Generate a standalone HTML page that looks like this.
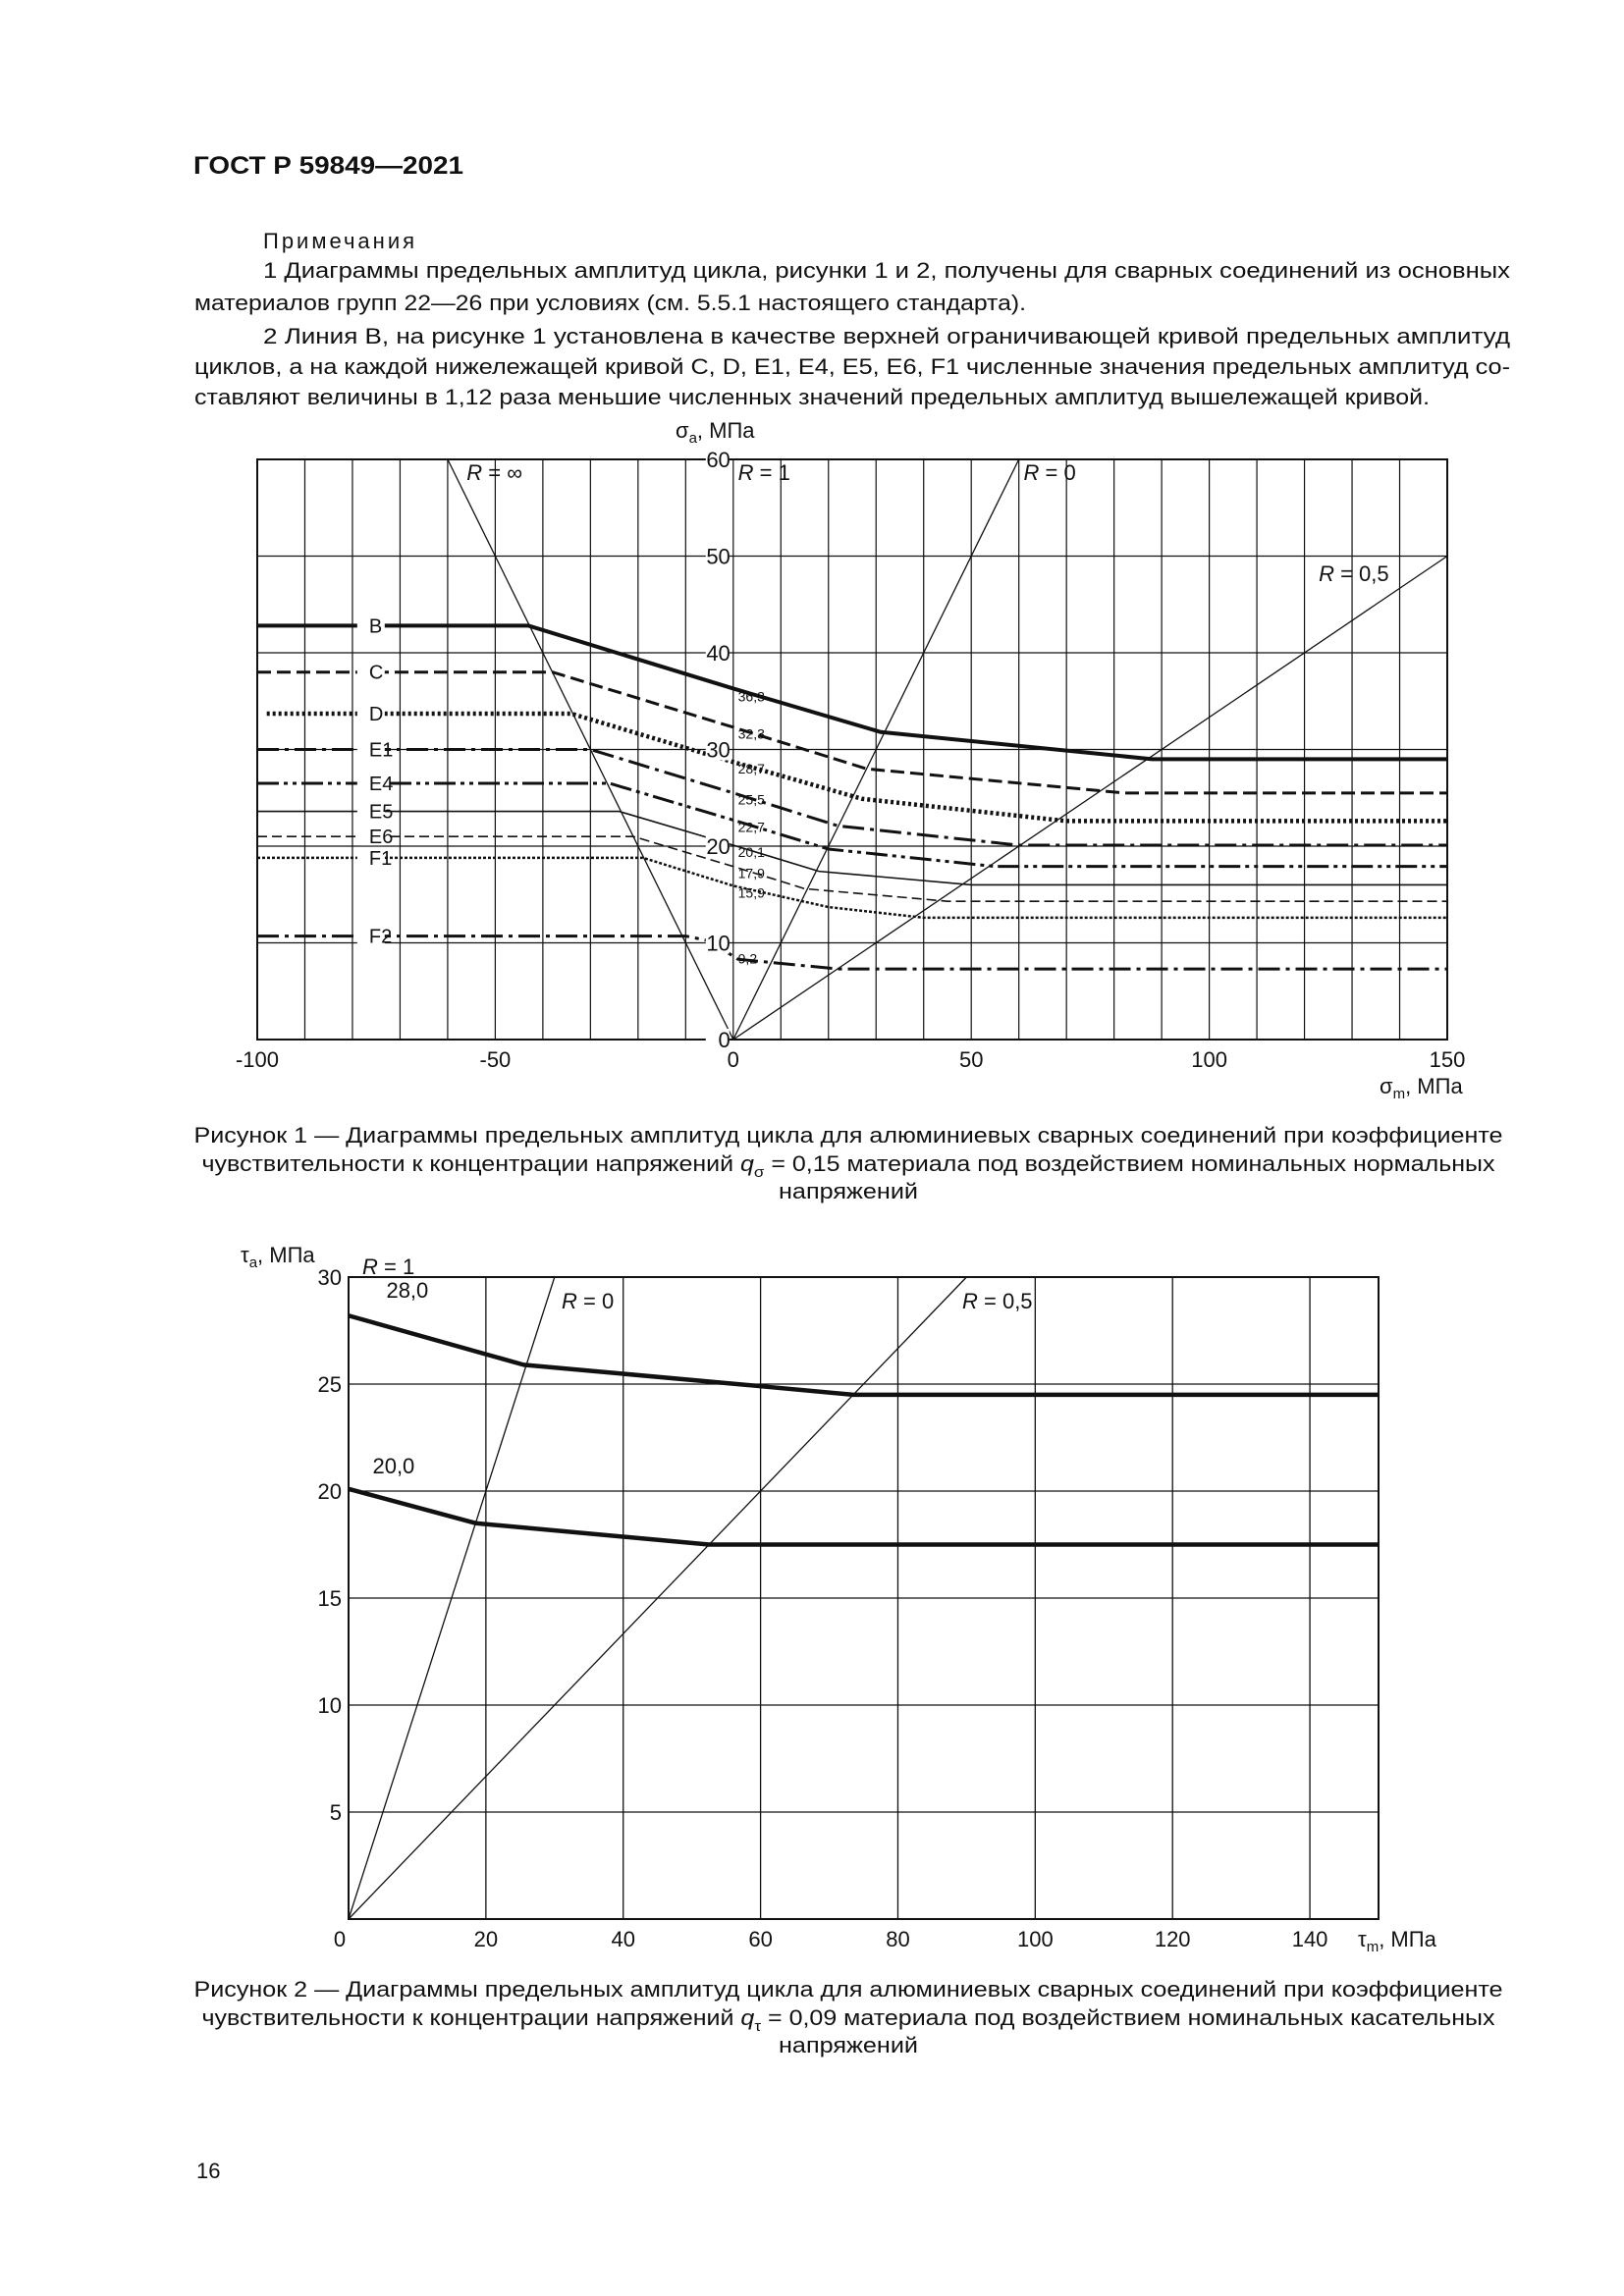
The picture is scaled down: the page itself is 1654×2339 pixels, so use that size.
<!DOCTYPE html>
<html><head><meta charset="utf-8"><style>
html,body{margin:0;padding:0;background:#fff}
svg{display:block;font-family:"Liberation Sans","Noto Sans CJK SC",sans-serif}
</style></head><body>
<svg id="page" width="1654" height="2339" viewBox="0 0 1654 2339" xmlns="http://www.w3.org/2000/svg">
<g font-size="22" fill="#111">
<text x="197" y="177" font-weight="bold" font-size="25" textLength="275" lengthAdjust="spacingAndGlyphs">ГОСТ Р 59849—2021</text>
<text x="268" y="253" letter-spacing="3">Примечания</text>
<text x="268" y="283" textLength="1270" lengthAdjust="spacingAndGlyphs">1 Диаграммы предельных амплитуд цикла, рисунки 1 и 2, получены для сварных соединений из основных</text>
<text x="198" y="316" textLength="847" lengthAdjust="spacingAndGlyphs">материалов групп 22—26 при условиях (см. 5.5.1 настоящего стандарта).</text>
<text x="268" y="350" textLength="1270" lengthAdjust="spacingAndGlyphs">2 Линия В, на рисунке 1 установлена в качестве верхней ограничивающей кривой предельных амплитуд</text>
<text x="198" y="381" textLength="1340" lengthAdjust="spacingAndGlyphs">циклов, а на каждой нижележащей кривой С, D, E1, E4, E5, E6, F1 численные значения предельных амплитуд со-</text>
<text x="198" y="412" textLength="1258" lengthAdjust="spacingAndGlyphs">ставляют величины в 1,12 раза меньшие численных значений предельных амплитуд вышележащей кривой.</text>
</g>
<g id="chart1"></g>
<g font-size="22" fill="#111" text-anchor="middle">
<text x="864" y="1164" textLength="1333" lengthAdjust="spacingAndGlyphs">Рисунок 1 — Диаграммы предельных амплитуд цикла для алюминиевых сварных соединений при коэффициенте</text>
<text x="864" y="1193" textLength="1317" lengthAdjust="spacingAndGlyphs">чувствительности к концентрации напряжений <tspan font-style="italic">q</tspan><tspan font-size="15" dy="6">σ</tspan><tspan dy="-6"> = 0,15 материала под воздействием номинальных нормальных</tspan></text>
<text x="864" y="1221" textLength="142" lengthAdjust="spacingAndGlyphs">напряжений</text>
</g>
<g id="chart2"></g>
<g font-size="22" fill="#111" text-anchor="middle">
<text x="864" y="2034" textLength="1333" lengthAdjust="spacingAndGlyphs">Рисунок 2 — Диаграммы предельных амплитуд цикла для алюминиевых сварных соединений при коэффициенте</text>
<text x="864" y="2063" textLength="1317" lengthAdjust="spacingAndGlyphs">чувствительности к концентрации напряжений <tspan font-style="italic">q</tspan><tspan font-size="15" dy="6">τ</tspan><tspan dy="-6"> = 0,09 материала под воздействием номинальных касательных</tspan></text>
<text x="864" y="2091" textLength="142" lengthAdjust="spacingAndGlyphs">напряжений</text>
</g>
<text x="200" y="2219" font-size="22" fill="#111">16</text>
</svg>
<script>
// ---------- Figure 1 data ----------
const f1XTicks = [-100, -50, 0, 50, 100, 150];
const f1YTicks = [0, 10, 20, 30, 40, 50, 60];
const f1Names = ['B','C','D','E1','E4','E5','E6','F1','F2'];
const f1B  = [[-100,42.8],[-43,42.8],[0,36.3],[31,31.8],[88,29],[150,29]];
const f1C  = [[-100,38],[-38,38],[0,32.3],[28,28],[82,25.5],[150,25.5]];
const f1D  = [[-98,33.7],[-34,33.7],[0,28.7],[27,24.9],[70,22.6],[150,22.6]];
const f1E1 = [[-100,30],[-30,30],[0,25.5],[22,22.1],[60,20.1],[150,20.1]];
const f1E4 = [[-100,26.5],[-26,26.5],[0,22.7],[20,19.7],[55,17.9],[150,17.9]];
const f1E5 = [[-100,23.6],[-24,23.6],[0,20.1],[18,17.4],[50,16],[150,16]];
const f1E6 = [[-100,21],[-21,21],[0,17.9],[15,15.6],[45,14.3],[150,14.3]];
const f1F1 = [[-100,18.8],[-19,18.8],[0,15.9],[20,13.7],[40,12.6],[150,12.6]];
const f1F2 = [[-100,10.7],[-10,10.7],[-5,10.2],[1,8.3],[22,7.3],[150,7.3]];
const f1ValueLabels = ['36,3','32,3','28,7','25,5','22,7','20,1','17,9','15,9','9,2'];
const f1ValueLabelY = [35.5,31.6,28.0,24.8,22.0,19.4,17.2,15.2,8.4];
// ---------- Figure 2 data ----------
const f2XTicks = [0,20,40,60,80,100,120,140];
const f2YTicks = [0,5,10,15,20,25,30];
const f2Upper = [[0,28.2],[25.5,25.9],[60,24.9],[73.5,24.5],[150,24.5]];
const f2Lower = [[0,20.1],[18.5,18.5],[52.5,17.5],[150,17.5]];

const NS='http://www.w3.org/2000/svg';
function mk(parent, tag, attrs){const e=document.createElementNS(NS,tag);for(const k in attrs)e.setAttribute(k,attrs[k]);parent.appendChild(e);return e;}

// ---------- Figure 1 ----------
(function(){
  const g=document.getElementById('chart1');
  const L=262,R=1474,T=468,B=1059;
  const x=v=>L+(v+100)/250*(R-L);
  const y=v=>B-v/60*(B-T);
  for(let v=-90;v<150;v+=10){
    const ln=mk(g,'line',{x1:x(v),x2:x(v),y1:T,y2:B,stroke:'#111','stroke-width':1.2});
    
    
  }
  for(let v=10;v<60;v+=10){
    const ln=mk(g,'line',{x1:L,x2:R,y1:y(v),y2:y(v),stroke:'#111','stroke-width':1.2});
    
    
  }
  const fr=mk(g,'rect',{x:L,y:T,width:R-L,height:B-T,fill:'none',stroke:'#111','stroke-width':2});
  
  
  const rl=[[[-60,60],[0,0]],[[0,0],[60,60]],[[0,0],[150,50]]];
  const rn=['r-infinity-line','r-0-line','r-0-5-line'];
  rl.forEach((p,i)=>{const ln=mk(g,'line',{x1:x(p[0][0]),y1:y(p[0][1]),x2:x(p[1][0]),y2:y(p[1][1]),stroke:'#111','stroke-width':1.3});
    
    });
  const series=[f1B,f1C,f1D,f1E1,f1E4,f1E5,f1E6,f1F1,f1F2];
  const styles=[[4,''],[3,'14 6'],[4.5,'3 3'],[3,'22 6 4 6'],[3,'22 5 4 5 4 5'],[1.6,''],[1.6,'10 5'],[2.5,'3 2'],[3,'22 6 4 6']];
  series.forEach((s,i)=>{
    const pl=mk(g,'polyline',{points:s.map(p=>x(p[0])+','+y(p[1])).join(' '),fill:'none',stroke:'#111','stroke-width':styles[i][0],'stroke-dasharray':styles[i][1],'stroke-linejoin':'round'});
    
    
    const yy=y(s[0][1]);
    const bg=mk(g,'rect',{x:x(-79),y:yy-9,width:28,height:18,fill:'#fff'});
    
    
    const t=mk(g,'text',{x:x(-76.5),y:yy+7,'font-size':20,fill:'#111'});
    t.textContent=f1Names[i];
    
    
    const vt=mk(g,'text',{x:x(1),y:y(f1ValueLabelY[i])+5,'font-size':14,fill:'#111'});
    vt.textContent=f1ValueLabels[i];
    
    
  });
  f1YTicks.forEach(v=>{
    const bg=mk(g,'rect',{x:x(0)-28,y:y(v)-11,width:24,height:22,fill:'#fff'});
    
    
    const t=mk(g,'text',{x:x(0)-3,y:y(v)+8,'font-size':22,'text-anchor':'end',fill:'#111'});
    t.textContent=v;
    
    
  });
  f1XTicks.forEach(v=>{
    const t=mk(g,'text',{x:x(v),y:B+28,'font-size':22,'text-anchor':'middle',fill:'#111'});
    t.textContent=v;
    
    
  });
  const labs=[['R = ∞',-56,58.5],['R = 1',1,58.5],['R = 0',61,58.5],['R = 0,5',123,48]];
  labs.forEach(l=>{
    const t=mk(g,'text',{x:x(l[1]),y:y(l[2])+6,'font-size':22,fill:'#111'});
    t.innerHTML='<tspan font-style="italic">R</tspan>'+l[0].slice(1);
    
    
  });
  const ya=mk(g,'text',{x:688,y:446,'font-size':22,fill:'#111'});
  ya.innerHTML='σ<tspan font-size="15" dy="5">a</tspan><tspan dy="-5">, МПа</tspan>';
  
  
  const xa=mk(g,'text',{x:1405,y:B+55,'font-size':22,fill:'#111'});
  xa.innerHTML='σ<tspan font-size="15" dy="5">m</tspan><tspan dy="-5">, МПа</tspan>';
  
  
})();

// ---------- Figure 2 ----------
(function(){
  const g=document.getElementById('chart2');
  const L=355,R=1404,T=1301,B=1955;
  const x=v=>L+v/150*(R-L);
  const y=v=>B-v/30*(B-T);
  for(let v=20;v<150;v+=20){
    const ln=mk(g,'line',{x1:x(v),x2:x(v),y1:T,y2:B,stroke:'#111','stroke-width':1.3});
    
    
  }
  for(let v=5;v<30;v+=5){
    const ln=mk(g,'line',{x1:L,x2:R,y1:y(v),y2:y(v),stroke:'#111','stroke-width':1.3});
    
    
  }
  const fr=mk(g,'rect',{x:L,y:T,width:R-L,height:B-T,fill:'none',stroke:'#111','stroke-width':2});
  
  
  const r0=mk(g,'line',{x1:x(0),y1:y(0),x2:x(30),y2:y(30),stroke:'#111','stroke-width':1.3});
  
  
  const r5=mk(g,'line',{x1:x(0),y1:y(0),x2:x(90),y2:y(30),stroke:'#111','stroke-width':1.3});
  
  
  [f2Upper,f2Lower].forEach((s,i)=>{
    const pl=mk(g,'polyline',{points:s.map(p=>x(p[0])+','+y(p[1])).join(' '),fill:'none',stroke:'#111','stroke-width':4.5,'stroke-linejoin':'round'});
    
    
    const t=mk(g,'text',{x:x(i?3.5:5.5),y:y(s[0][1])-16+(i?0:-2),'font-size':22,fill:'#111'});
    t.textContent=s[0][1]>25?'28,0':'20,0';
    
    
  });
  f2YTicks.forEach(v=>{
    if(v===0)return;
    const t=mk(g,'text',{x:L-7,y:y(v)+8,'font-size':22,'text-anchor':'end',fill:'#111'});
    t.textContent=v;
    
    
  });
  f2XTicks.forEach(v=>{
    const t=mk(g,'text',{x:v===0?L-9:x(v),y:B+28,'font-size':22,'text-anchor':'middle',fill:'#111'});
    t.textContent=v;
    
    
  });
  const labs=[['R = 1',369,1298],['R = 0',572,1333],['R = 0,5',980,1333]];
  labs.forEach(l=>{
    const t=mk(g,'text',{x:l[1],y:l[2],'font-size':22,fill:'#111'});
    t.innerHTML='<tspan font-style="italic">R</tspan>'+l[0].slice(1);
    
    
  });
  const ya=mk(g,'text',{x:245,y:1286,'font-size':22,fill:'#111'});
  ya.innerHTML='τ<tspan font-size="15" dy="5">a</tspan><tspan dy="-5">, МПа</tspan>';
  
  
  const xa=mk(g,'text',{x:1383,y:B+28,'font-size':22,fill:'#111'});
  xa.innerHTML='τ<tspan font-size="15" dy="5">m</tspan><tspan dy="-5">, МПа</tspan>';
  
  
})();
</script>
</body></html>
